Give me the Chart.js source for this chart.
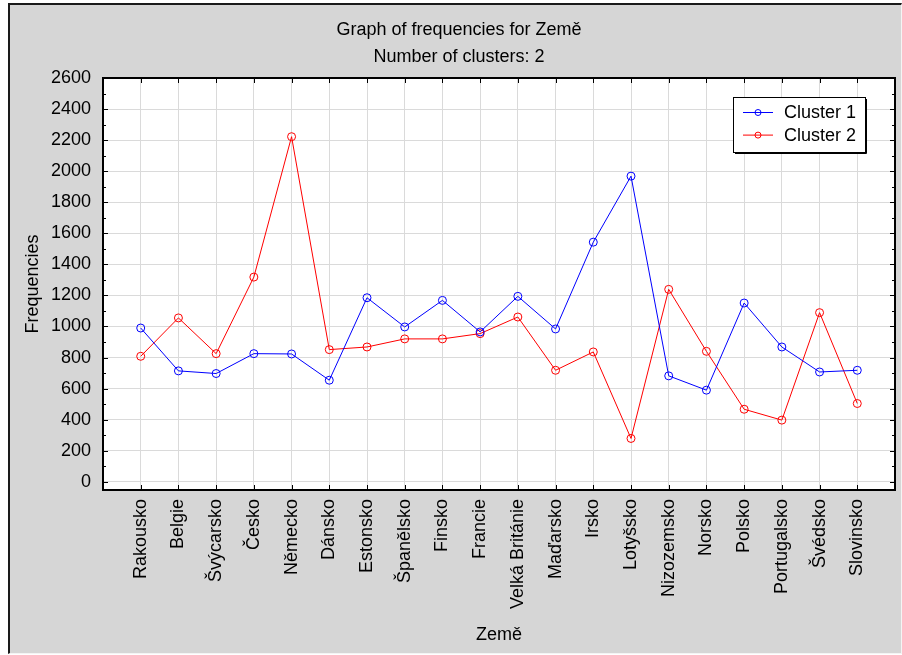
<!DOCTYPE html>
<html>
<head>
<meta charset="utf-8">
<script src="https://cdn.jsdelivr.net/npm/chart.js@4/dist/chart.umd.min.js"></script>
<style>
  html, body { margin: 0; padding: 0; background: #ffffff; }
  #frame {
    position: absolute; left: 8px; top: 3px; width: 891px; height: 648px;
    background: #d6d6d6;
    border-left: 2px solid #1a1a1a; border-top: 2px solid #1a1a1a;
    border-right: 1px solid #f4f4f4; border-bottom: 1px solid #f4f4f4;
  }
  #wrap { position: absolute; left: 22px; top: 4px; width: 878px; height: 648px; }
</style>
</head>
<body>
<div id="frame"></div>
<div id="wrap"><canvas id="c" width="878" height="648"></canvas></div>
<script>
const categories = ['Rakousko','Belgie','Švýcarsko','Česko','Německo','Dánsko','Estonsko','Španělsko','Finsko','Francie','Velká Británie','Maďarsko','Irsko','Lotyšsko','Nizozemsko','Norsko','Polsko','Portugalsko','Švédsko','Slovinsko'];
const cluster1 = [990, 714, 697, 825, 823, 654, 1185, 997, 1168, 965, 1194, 984, 1543, 1968, 682, 590, 1151, 868, 707, 718];
const cluster2 = [808, 1055, 825, 1318, 2222, 851, 868, 920, 920, 954, 1061, 718, 836, 279, 1239, 840, 467, 397, 1089, 504];
const seriesNames = ['Cluster 1', 'Cluster 2'];
const seriesColors = ['#0000ff', '#ff0000'];
const yTickValues = [0,200,400,600,800,1000,1200,1400,1600,1800,2000,2200,2400,2600];
const titleLines = ['Graph of frequencies for Země', 'Number of clusters: 2'];
const xTitle = 'Země';
const yTitle = 'Frequencies';

const FONT = 'Arial, "Liberation Sans", sans-serif';
const FS = 18;

const toPoints = arr => arr.map((v, i) => ({x: i, y: v}));

const framePlugin = {
  id: 'framePlugin',
  beforeDraw(chart) {
    const {ctx, chartArea: a} = chart;
    ctx.save();
    ctx.fillStyle = '#ffffff';
    ctx.fillRect(a.left, a.top, a.right - a.left, a.bottom - a.top);
    ctx.restore();
  },
  afterDraw(chart) {
    const {ctx, chartArea: a} = chart;
    const xs = chart.scales.x, ys = chart.scales.y;
    ctx.save();
    ctx.strokeStyle = '#000000';
    ctx.lineWidth = 1;
    ctx.beginPath();
    for (let v = 0; v <= 2600; v += 100) {
      const y = Math.round(ys.getPixelForValue(v)) + 0.5;
      const len = (v % 200 === 0) ? 5 : 3;
      ctx.moveTo(a.left, y); ctx.lineTo(a.left + len, y);
      ctx.moveTo(a.right, y); ctx.lineTo(a.right - len, y);
    }
    categories.forEach((_, i) => {
      const x = Math.round(xs.getPixelForValue(i)) + 0.5;
      ctx.moveTo(x, a.top); ctx.lineTo(x, a.top + 5);
      ctx.moveTo(x, a.bottom); ctx.lineTo(x, a.bottom - 5);
    });
    ctx.stroke();
    ctx.lineWidth = 2;
    ctx.strokeRect(a.left, a.top, a.right - a.left, a.bottom - a.top);

    // legend
    const lx = a.left + 630, ly = a.top + 19, lw = 132, lh = 55;
    ctx.fillStyle = '#ffffff';
    ctx.fillRect(lx, ly, lw, lh);
    ctx.lineWidth = 1;
    ctx.strokeStyle = '#000000';
    ctx.strokeRect(lx + 0.5, ly + 0.5, lw, lh);
    ctx.beginPath();
    ctx.moveTo(lx + lw + 1.5, ly + 2); ctx.lineTo(lx + lw + 1.5, ly + lh + 1.5); ctx.lineTo(lx + 2, ly + lh + 1.5);
    ctx.stroke();
    chart.data.datasets.forEach((ds, i) => {
      const cy = ly + 15.5 + i * 22.6;
      ctx.strokeStyle = ds.borderColor;
      ctx.lineWidth = 1;
      ctx.beginPath();
      ctx.moveTo(lx + 10, cy); ctx.lineTo(lx + 40, cy);
      ctx.stroke();
      ctx.beginPath();
      ctx.arc(lx + 25, cy, 3, 0, Math.PI * 2);
      ctx.stroke();
      ctx.fillStyle = '#000000';
      ctx.font = FS + 'px ' + FONT;
      ctx.textBaseline = 'middle';
      ctx.textAlign = 'left';
      ctx.fillText(ds.label, lx + 51, cy + 1);
    });
    ctx.restore();
  }
};

new Chart(document.getElementById('c'), {
  type: 'line',
  data: {
    datasets: [
      { label: seriesNames[0], data: toPoints(cluster1), borderColor: seriesColors[0], backgroundColor: 'transparent',
        borderWidth: 1, pointRadius: 4, pointBorderWidth: 1, pointBackgroundColor: 'transparent', pointBorderColor: seriesColors[0], tension: 0 },
      { label: seriesNames[1], data: toPoints(cluster2), borderColor: seriesColors[1], backgroundColor: 'transparent',
        borderWidth: 1, pointRadius: 4, pointBorderWidth: 1, pointBackgroundColor: 'transparent', pointBorderColor: seriesColors[1], tension: 0 }
    ]
  },
  options: {
    responsive: false,
    animation: false,
    devicePixelRatio: 1,
    layout: { padding: { left: 0, right: 4, top: 0, bottom: 0 } },
    plugins: {
      legend: { display: false },
      tooltip: { enabled: false },
      title: {
        display: true,
        text: titleLines,
        color: '#000000',
        font: { family: FONT, size: FS, weight: 'normal', lineHeight: 1.5 },
        padding: { top: 13, bottom: 7 }
      }
    },
    scales: {
      x: {
        type: 'linear',
        min: -1, max: categories.length,
        afterBuildTicks(scale) { scale.ticks = categories.map((_, i) => ({ value: i })); },
        afterFit(scale) { scale.height = 162; },
        grid: { color: '#dadada', lineWidth: 1, drawTicks: false },
        border: { display: false },
        ticks: {
          autoSkip: false, maxRotation: 90, minRotation: 90, padding: 9,
          color: '#000000', font: { family: FONT, size: FS },
          callback: (v) => categories[v] !== undefined ? categories[v] : ''
        },
        title: { display: true, text: xTitle, color: '#000000', font: { family: FONT, size: FS }, padding: { top: 0, bottom: 6 } }
      },
      y: {
        type: 'linear',
        min: -53, max: 2600,
        afterBuildTicks(scale) { scale.ticks = yTickValues.map(v => ({ value: v })); },
        afterFit(scale) { scale.width = 81; },
        grid: { color: '#dadada', lineWidth: 1, drawTicks: false },
        border: { display: false },
        ticks: { padding: 12, color: '#000000', font: { family: FONT, size: FS }, callback: (v) => String(v) },
        title: { display: true, text: yTitle, color: '#000000', font: { family: FONT, size: FS }, padding: { top: 0, bottom: 0 } }
      }
    }
  },
  plugins: [framePlugin]
});
</script>
</body>
</html>
